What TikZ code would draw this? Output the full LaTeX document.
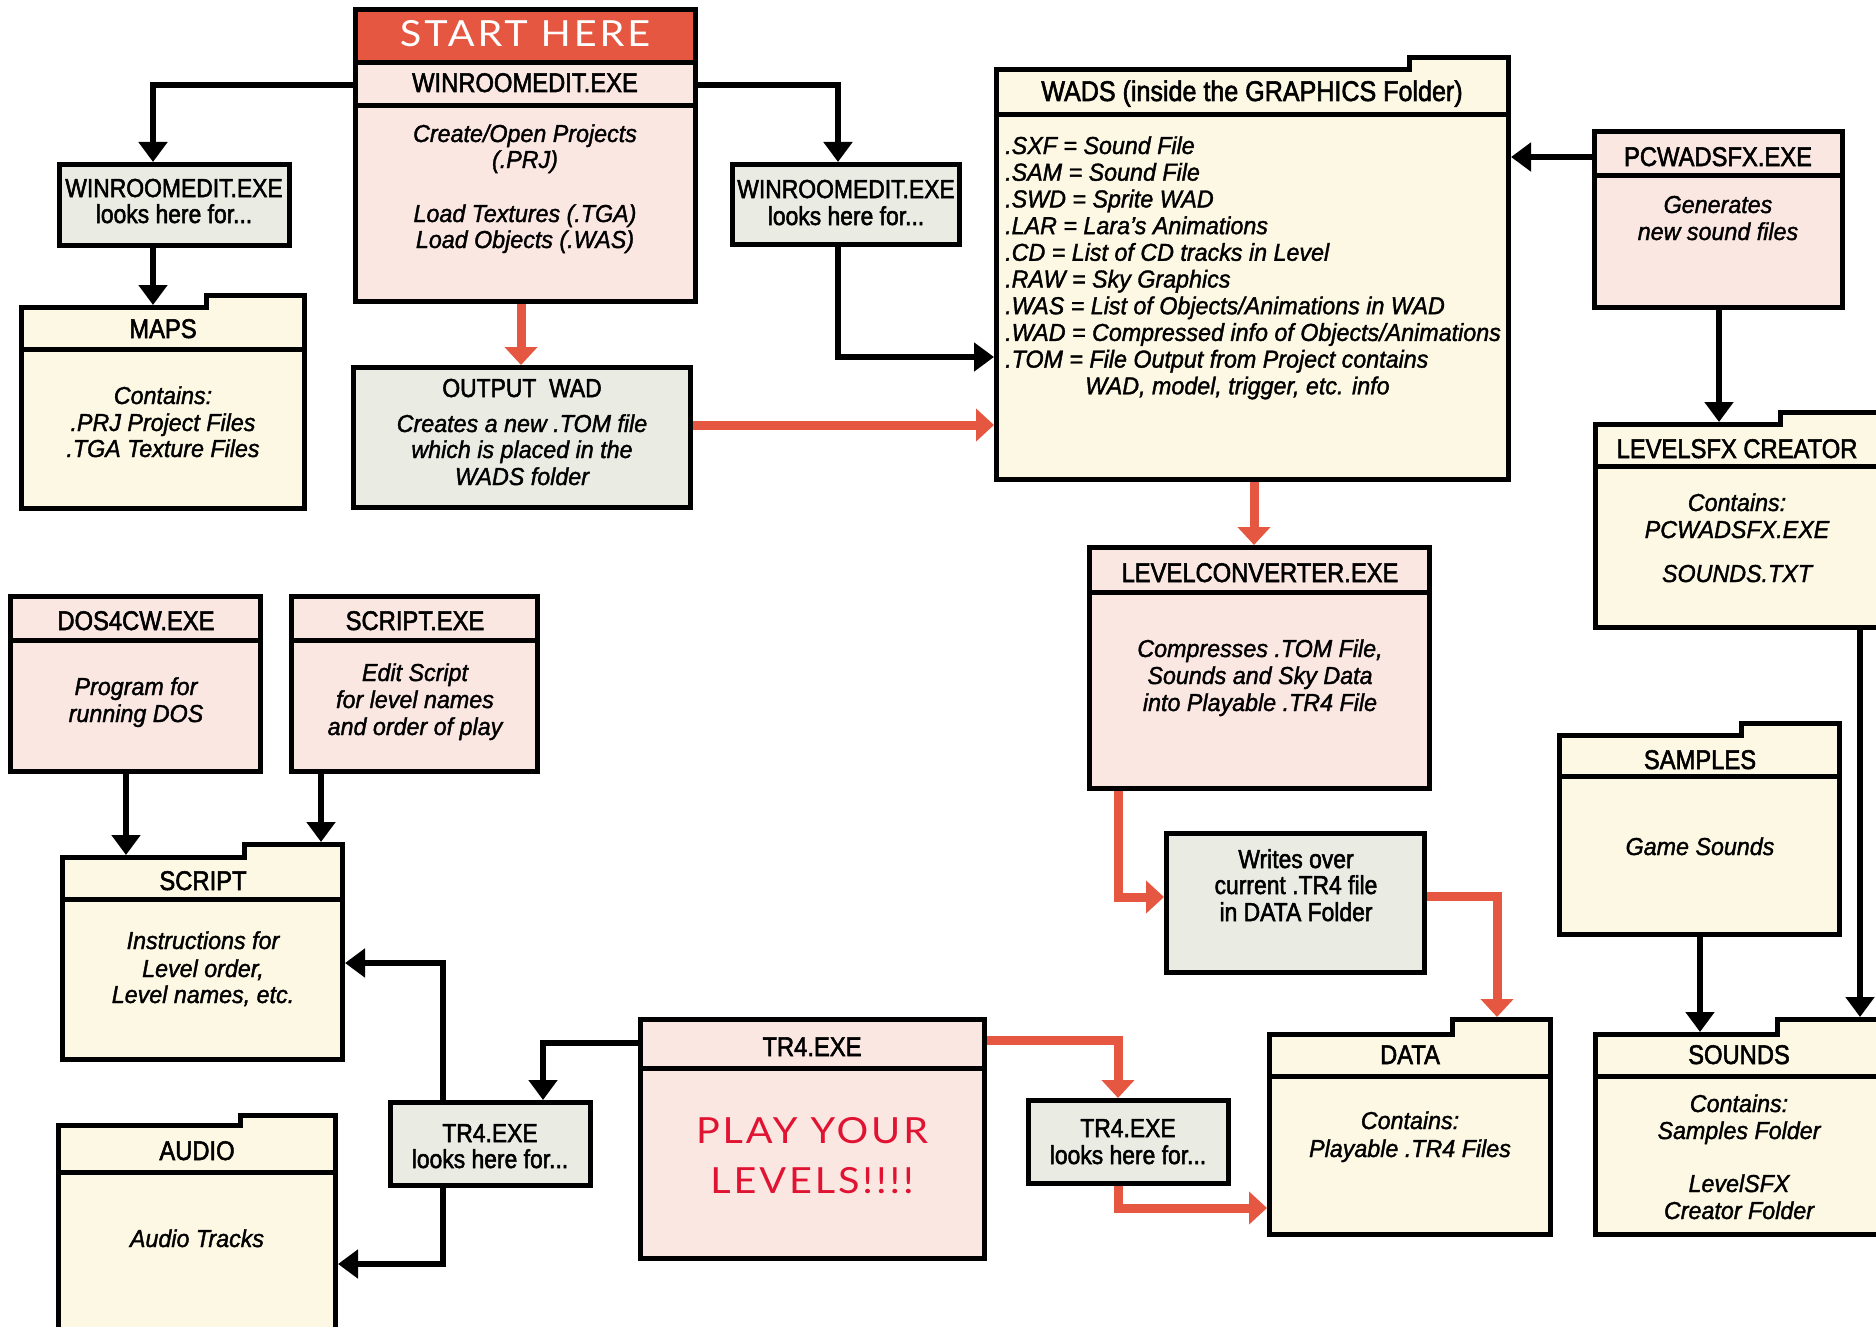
\documentclass[tikz,border=0pt]{standalone}
\usepackage{fontspec}
\usetikzlibrary{arrows.meta}
\setmainfont{Liberation Sans}
\newfontfamily\hdrf[FakeStretch=0.88,FakeBold=2]{Liberation Sans}
\newfontfamily\bodyf[FakeStretch=0.95,FakeBold=1.5]{Liberation Sans}
\newfontfamily\lightf[FakeStretch=1.1,LetterSpace=8]{Lato}
\definecolor{pinkf}{RGB}{251,231,226}
\definecolor{greyf}{RGB}{234,236,228}
\definecolor{yelf}{RGB}{253,248,227}
\definecolor{redf}{RGB}{229,87,65}
\definecolor{playred}{RGB}{224,20,50}
\tikzset{
 box/.style={draw, line width=5pt, inner sep=0pt, outer sep=2.5pt, anchor=north west},
 hd/.style={font=\hdrf\fontsize{27}{30}\selectfont, anchor=base, inner sep=0pt},
 lk/.style={font=\hdrf\fontsize{26}{28}\selectfont, anchor=base, inner sep=0pt},
 bd/.style={font=\bodyf\itshape\fontsize{24.5}{27}\selectfont, anchor=base, inner sep=0pt},
 bdl/.style={bd, anchor=base west},
 big/.style={font=\lightf\fontsize{36}{40}\selectfont, anchor=base, inner sep=0pt},
 blk/.style={line width=6pt, -{Triangle[width=28pt,length=20pt]}},
 rd/.style={draw=redf, line width=9pt, -{Triangle[width=32pt,length=18pt]}},
 sep/.style={line width=5pt},
 fold/.style={fill=yelf, draw, line width=5pt},
}
% name, x1, y1, x2, y2, fill
\newcommand\mybox[6]{\node[box, fill=#6, minimum width={#4-#2-5}, minimum height={#5-#3-5}] (#1) at (#2,#3) {};}
% name, x1, bodytop, x2, bottom, tabx, tabtop, headerline
\newcommand\myfolder[8]{%
 \filldraw[fold] ({#2+2.5},{#3+2.5}) -- ({#6+2.5},{#3+2.5}) -- ({#6+2.5},{#7+2.5}) -- ({#4-2.5},{#7+2.5}) -- ({#4-2.5},{#5-2.5}) -- ({#2+2.5},{#5-2.5}) -- cycle;
 \draw[sep] (#2,#8) -- (#4,#8);
 \node[inner sep=0pt, outer sep=0pt, minimum width={#4-#2}, minimum height={#5-#3}, anchor=north west] (#1) at (#2,#3) {};
 \coordinate (#1-tab) at (#6,#7);
}
\begin{document}
\begin{tikzpicture}[x=1pt,y=-1pt]
\useasboundingbox (0,0) rectangle (1876,1327);
\clip (0,0) rectangle (1876,1327);

% ---------- boxes ----------
\mybox{start}{353}{7}{698}{304}{pinkf}
\fill[redf] (358,12) rectangle (693,61);
\draw[sep] (353,62.5) -- (698,62.5);
\draw[sep] (353,106) -- (698,106);
\draw[line width=5pt] (355.5,9.5) rectangle (695.5,301.5);

\mybox{look1}{57}{162}{292}{248}{greyf}
\myfolder{maps}{19}{305}{307}{511}{204}{293}{349}
\mybox{output}{351}{365}{693}{510}{greyf}
\mybox{look2}{730}{162}{962}{247}{greyf}
\myfolder{wads}{994}{67}{1511}{482}{1407}{55}{115}
\mybox{pcwad}{1592}{129}{1845}{310}{pinkf}
\draw[sep] (1592,175) -- (1845,175);
\myfolder{lsfx}{1593}{422}{1895}{630}{1778}{410}{466}
\mybox{lc}{1087}{545}{1432}{791}{pinkf}
\draw[sep] (1087,592) -- (1432,592);
\mybox{writes}{1164}{831}{1427}{975}{greyf}
\myfolder{samples}{1557}{733}{1842}{937}{1739}{721}{776}
\myfolder{data}{1267}{1032}{1553}{1237}{1450}{1017}{1076}
\myfolder{sounds}{1593}{1032}{1895}{1237}{1775}{1017}{1076}
\mybox{dos}{8}{594}{263}{774}{pinkf}
\draw[sep] (8,640) -- (263,640);
\mybox{sexe}{289}{594}{540}{774}{pinkf}
\draw[sep] (289,640) -- (540,640);
\myfolder{script}{60}{855}{345}{1062}{242}{842}{899}
\myfolder{audio}{56}{1123}{338}{1345}{238}{1113}{1172}
\mybox{tr4}{638}{1017}{987}{1261}{pinkf}
\draw[sep] (638,1068) -- (987,1068);
\mybox{tlL}{388}{1100}{593}{1188}{greyf}
\mybox{tlR}{1026}{1098}{1231}{1186}{greyf}

% ---------- texts ----------
\node[big, text=white] (t-start) at (525,47) {START HERE};
\node[hd] (t-wre) at (525,92) {WINROOMEDIT.EXE};
\node[bd] (t-st1) at (525,142) {Create/Open Projects};
\node[bd] (t-st2) at (525,168) {(.PRJ)};
\node[bd] (t-st3) at (525,222) {Load Textures (.TGA)};
\node[bd] (t-st4) at (525,248) {Load Objects (.WAS)};

\node[lk] (t-l11) at (174,197) {WINROOMEDIT.EXE};
\node[lk] (t-l12) at (174,223) {looks here for...};

\node[hd] (t-maps) at (163,338) {MAPS};
\node[bd] (t-m1) at (163,404) {Contains:};
\node[bd] (t-m2) at (163,431) {.PRJ Project Files};
\node[bd] (t-m3) at (163,457) {.TGA Texture Files};

\node[lk] (t-out) at (522,397) {OUTPUT\ \ WAD};
\node[bd] (t-o1) at (522,432) {Creates a new .TOM file};
\node[bd] (t-o2) at (522,458) {which is placed in the};
\node[bd] (t-o3) at (522,485) {WADS folder};

\node[lk] (t-l21) at (846,198) {WINROOMEDIT.EXE};
\node[lk] (t-l22) at (846,225) {looks here for...};

\node[hd, font=\hdrf\fontsize{28.5}{30}\selectfont] (t-wads) at (1252,101) {WADS (inside the GRAPHICS Folder)};
\node[bdl] (t-w1) at (1005,154) {.SXF = Sound File};
\node[bdl] (t-w2) at (1005,180.7) {.SAM = Sound File};
\node[bdl] (t-w3) at (1005,207.4) {.SWD = Sprite WAD};
\node[bdl] (t-w4) at (1005,234.1) {.LAR = Lara’s Animations};
\node[bdl] (t-w5) at (1005,260.8) {.CD = List of CD tracks in Level};
\node[bdl] (t-w6) at (1005,287.5) {.RAW = Sky Graphics};
\node[bdl] (t-w7) at (1005,314.2) {.WAS = List of Objects/Animations in WAD};
\node[bdl] (t-w8) at (1005,340.9) {.WAD = Compressed info of Objects/Animations};
\node[bdl] (t-w9) at (1005,367.6) {.TOM = File Output from Project contains};
\node[bdl] (t-w10) at (1085,394.3) {WAD, model, trigger, etc. info};

\node[hd] (t-pc) at (1718,166) {PCWADSFX.EXE};
\node[bd] (t-pc1) at (1718,213) {Generates};
\node[bd] (t-pc2) at (1718,240) {new sound files};

\node[hd] (t-ls) at (1737,458) {LEVELSFX CREATOR};
\node[bd] (t-ls1) at (1737,511) {Contains:};
\node[bd] (t-ls2) at (1737,538) {PCWADSFX.EXE};
\node[bd] (t-ls3) at (1737,582) {SOUNDS.TXT};

\node[hd] (t-lc) at (1260,582) {LEVELCONVERTER.EXE};
\node[bd] (t-lc1) at (1260,657) {Compresses .TOM File,};
\node[bd] (t-lc2) at (1260,684) {Sounds and Sky Data};
\node[bd] (t-lc3) at (1260,711) {into Playable .TR4 File};

\node[lk] (t-wr1) at (1296,868) {Writes over};
\node[lk] (t-wr2) at (1296,894) {current .TR4 file};
\node[lk] (t-wr3) at (1296,921) {in DATA Folder};

\node[hd] (t-sam) at (1700,769) {SAMPLES};
\node[bd] (t-sam1) at (1700,855) {Game Sounds};

\node[hd] (t-data) at (1410,1064) {DATA};
\node[bd] (t-d1) at (1410,1129) {Contains:};
\node[bd] (t-d2) at (1410,1157) {Playable .TR4 Files};

\node[hd] (t-snd) at (1739,1064) {SOUNDS};
\node[bd] (t-s1) at (1739,1112) {Contains:};
\node[bd] (t-s2) at (1739,1139) {Samples Folder};
\node[bd] (t-s3) at (1739,1192) {LevelSFX};
\node[bd] (t-s4) at (1739,1219) {Creator Folder};

\node[hd] (t-dos) at (136,630) {DOS4CW.EXE};
\node[bd] (t-dos1) at (136,695) {Program for};
\node[bd] (t-dos2) at (136,722) {running DOS};

\node[hd] (t-sx) at (415,630) {SCRIPT.EXE};
\node[bd] (t-sx1) at (415,681) {Edit Script};
\node[bd] (t-sx2) at (415,708) {for level names};
\node[bd] (t-sx3) at (415,735) {and order of play};

\node[hd] (t-scr) at (203,890) {SCRIPT};
\node[bd] (t-scr1) at (203,949) {Instructions for};
\node[bd] (t-scr2) at (203,977) {Level order,};
\node[bd] (t-scr3) at (203,1003) {Level names, etc.};

\node[hd] (t-aud) at (197,1160) {AUDIO};
\node[bd] (t-aud1) at (197,1247) {Audio Tracks};

\node[hd] (t-tr4) at (812,1056) {TR4.EXE};
\node[big, text=playred] (t-play1) at (812,1143) {PLAY YOUR};
\node[big, text=playred] (t-play2) at (812,1193) {LEVELS!!!!};

\node[lk] (t-tl1) at (490,1142) {TR4.EXE};
\node[lk] (t-tl2) at (490,1168) {looks here for...};
\node[lk] (t-tr1) at (1128,1137) {TR4.EXE};
\node[lk] (t-tr2) at (1128,1164) {looks here for...};

% ---------- connectors ----------
\draw[blk] (start.west |- 0,85) -| (153,0 |- look1.north);
\draw[blk] (153,0 |- look1.south) -- (153,0 |- maps.north);
\draw[blk] (start.east |- 0,85) -| (838,0 |- look2.north);
\draw[blk] (838,0 |- look2.south) |- (wads.west |- 0,357);
\draw[rd] (521,0 |- start.south) -- (521,0 |- output.north);
\draw[rd] (output.east |- 0,425) -- (wads.west |- 0,425);
\draw[blk] (pcwad.west |- 0,157) -- (wads.east |- 0,157);
\draw[blk] (1719,0 |- pcwad.south) -- (1719,0 |- lsfx.north);
\draw[rd] (1254,0 |- wads.south) -- (1254,0 |- lc.north);
\draw[rd] (1118,0 |- lc.south) |- (writes.west |- 0,897);
\draw[rd] (writes.east |- 0,896) -| (1497,0 |- data-tab);
\draw[blk] (1860,0 |- lsfx.south) -- (1860,0 |- sounds-tab);
\draw[blk] (1700,0 |- samples.south) -- (1700,0 |- sounds.north);
\draw[blk] (126,0 |- dos.south) -- (126,0 |- script.north);
\draw[blk] (321,0 |- sexe.south) -- (321,0 |- script-tab);
\draw[blk] (tr4.west |- 0,1043) -| (543,0 |- tlL.north);
\draw[blk] (443,0 |- tlL.north) |- (script.east |- 0,963);
\draw[blk] (443,0 |- tlL.south) |- (audio.east |- 0,1264);
\draw[rd] (tr4.east |- 0,1040) -| (1118,0 |- tlR.north);
\draw[rd] (1118,0 |- tlR.south) |- (data.west |- 0,1208);
\end{tikzpicture}
\end{document}
